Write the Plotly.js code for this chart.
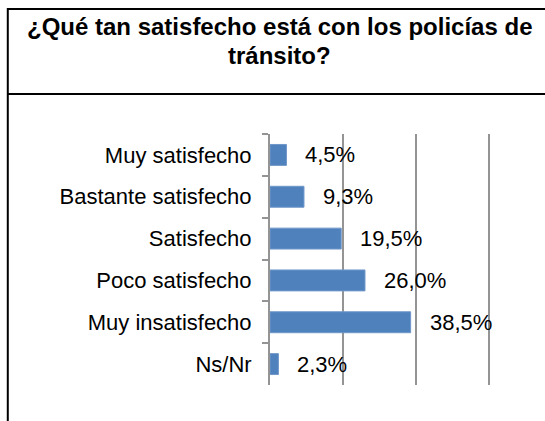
<!DOCTYPE html>
<html>
<head>
<meta charset="utf-8">
<script src="https://cdn.plot.ly/plotly-3.0.1.min.js"></script>
<style>html,body{margin:0;padding:0;background:#fff;}#chart{width:545px;height:421px;}</style>
</head>
<body>
<div id="chart"></div>
<script>
const categories = ["Muy satisfecho", "Bastante satisfecho", "Satisfecho", "Poco satisfecho", "Muy insatisfecho", "Ns/Nr"];
const values = [4.5, 9.3, 19.5, 26.0, 38.5, 2.3];
const valueLabels = ["4,5%", "9,3%", "19,5%", "26,0%", "38,5%", "2,3%"];
const titleLines = ["¿Qué tan satisfecho está con los policías de", "tránsito?"];

const W = 545, H = 421;
const XMAX = 60.5;
const L = 270, R = 270 + 219 * XMAX / 60, T = 134, B = 385;
const px = x => (x - L) / (R - L);
const py = y => (B - y) / (B - T);

const FONT = "Liberation Sans, Arial, sans-serif";

const trace = {
  type: "bar",
  orientation: "h",
  x: values,
  y: categories,
  marker: {color: "#4F81BD", line: {color: "#6f97c9", width: 1}},
  hoverinfo: "none"
};

const annotations = values.map((v, i) => ({
  x: v, y: categories[i], xref: "x", yref: "y",
  text: valueLabels[i], showarrow: false,
  xanchor: "left", yanchor: "middle", xshift: 17,
  font: {family: FONT, size: 22, color: "#000"}
}));

const titleCenters = [27, 55];
titleLines.forEach((t, i) => annotations.push({
  x: px(279), y: py(titleCenters[i]), xref: "paper", yref: "paper",
  text: "<b>" + t + "</b>", showarrow: false,
  xanchor: "center", yanchor: "middle",
  font: {family: FONT, size: 24, color: "#000"}
}));

const line = (x0, y0, x1, y1) => ({
  type: "line", xref: "paper", yref: "paper",
  x0: px(x0), y0: py(y0), x1: px(x1), y1: py(y1),
  line: {color: "#000", width: 2}, layer: "above"
});

const layout = {
  width: W, height: H,
  margin: {l: L, r: W - R, t: T, b: H - B, pad: 0},
  paper_bgcolor: "#fff", plot_bgcolor: "#fff",
  showlegend: false,
  bargap: 0.5,
  xaxis: {
    range: [0, XMAX], dtick: 20, tick0: 0,
    showgrid: true, gridcolor: "#949494", gridwidth: 2,
    zeroline: false, showline: false, showticklabels: false, ticks: ""
  },
  yaxis: {
    type: "category", autorange: "reversed",
    showline: true, linecolor: "#949494", linewidth: 2,
    ticks: "outside", tickson: "boundaries", ticklen: 6, tickwidth: 2, tickcolor: "#949494",
    ticklabelstandoff: 12,
    showgrid: false, zeroline: false,
    tickfont: {family: FONT, size: 22, color: "#000"}
  },
  annotations: annotations,
  shapes: [
    line(8, 9, W + 5, 9),
    line(8, 94, W + 5, 94),
    line(8, 8, 8, H + 5)
  ]
};

Plotly.newPlot("chart", [trace], layout, {displayModeBar: false, staticPlot: true});
</script>
</body>
</html>
